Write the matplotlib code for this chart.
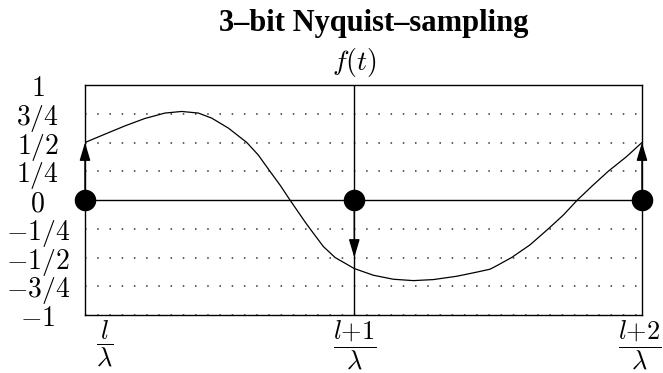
import matplotlib
matplotlib.use("Agg")
import matplotlib.pyplot as plt
import matplotlib.transforms as mtransforms

plt.rcParams['mathtext.fontset'] = 'cm'

# sample instants (axis units) and the 3-bit sample values
sample_t = [0.0, 0.967, 2.0]
sample_v = [0.5, -0.5, 0.5]

# f(t)
curve_t = [0.0, 0.072, 0.144, 0.215, 0.287, 0.347, 0.407, 0.455, 0.515, 0.581,
           0.622, 0.664, 0.700, 0.736, 0.790, 0.808, 0.856, 0.898, 0.967, 1.035,
           1.107, 1.179, 1.251, 1.335, 1.407, 1.454, 1.478, 1.532, 1.598, 1.664,
           1.718, 1.768, 1.825, 1.879, 1.945, 2.0]
curve_v = [0.5, 0.573, 0.645, 0.709, 0.756, 0.770, 0.756, 0.712, 0.625, 0.5,
           0.392, 0.25, 0.131, 0.0, -0.19, -0.25, -0.405, -0.5, -0.596, -0.654,
           -0.689, -0.701, -0.692, -0.663, -0.627, -0.602, -0.572, -0.5, -0.39, -0.25,
           -0.13, 0.0, 0.131, 0.25, 0.378, 0.5]

ytick_vals = [1, 0.75, 0.5, 0.25, 0, -0.25, -0.5, -0.75, -1]
ytick_labels = [r'$1$', r'$3/4$', r'$1/2$', r'$1/4$', r'$0$',
                r'$-1/4$', r'$-1/2$', r'$-3/4$', r'$-1$']
xtick_labels = [r'$\dfrac{l}{\lambda}$', r'$\dfrac{l{+}1}{\lambda}$',
                r'$\dfrac{l{+}2}{\lambda}$']

fig = plt.figure(figsize=(6.63, 3.73), dpi=100)
ax = fig.add_axes([0.1282, 0.1555, 0.8401, 0.6166])

# dotted quantisation levels
for v in ytick_vals:
    if v == 0:
        ax.axhline(v, color='black', lw=1.0, zorder=2)
    else:
        ax.axhline(v, color='#333333', lw=1.1, ls=(0, (1, 7)), zorder=1)
ax.axvline(sample_t[1], color='black', lw=1.0, zorder=2)

ax.plot(curve_t, curve_v, color='black', lw=0.9, zorder=3)

for t, v in zip(sample_t, sample_v):
    ax.annotate('', xy=(t, v), xytext=(t, 0),
                arrowprops=dict(arrowstyle='-|>,head_length=1.1,head_width=0.33',
                                color='black', lw=1.0, shrinkA=0, shrinkB=0),
                annotation_clip=False, zorder=4)
ax.plot(sample_t, [0] * len(sample_t), 'o', color='black', markersize=14.5,
        clip_on=False, zorder=5)

ax.set_xlim(0, 2)
ax.set_ylim(-1, 1)
ax.set_yticks(ytick_vals)
ax.set_yticklabels(ytick_labels, fontsize=20, ha='center')
ax.tick_params(axis='y', length=0, pad=34)
ax.set_xticks(sample_t)
ax.set_xticklabels(xtick_labels, fontsize=19)
ax.tick_params(axis='x', length=0, pad=2)
labs = ax.get_xticklabels()
labs[0].set_transform(labs[0].get_transform() +
                      mtransforms.ScaledTranslation(20 / 100, 0, fig.dpi_scale_trans))
labs[2].set_transform(labs[2].get_transform() +
                      mtransforms.ScaledTranslation(-2 / 100, 0, fig.dpi_scale_trans))

for s in ax.spines.values():
    s.set_linewidth(1.0)

fig.text(0.563, 0.938, '3–bit Nyquist–sampling', ha='center', va='center',
         fontsize=22, fontweight='bold', family='Liberation Serif')
fig.text(0.535, 0.832, r'$f(t)$', ha='center', va='center', fontsize=20)

fig.savefig('out.png', dpi=100)
